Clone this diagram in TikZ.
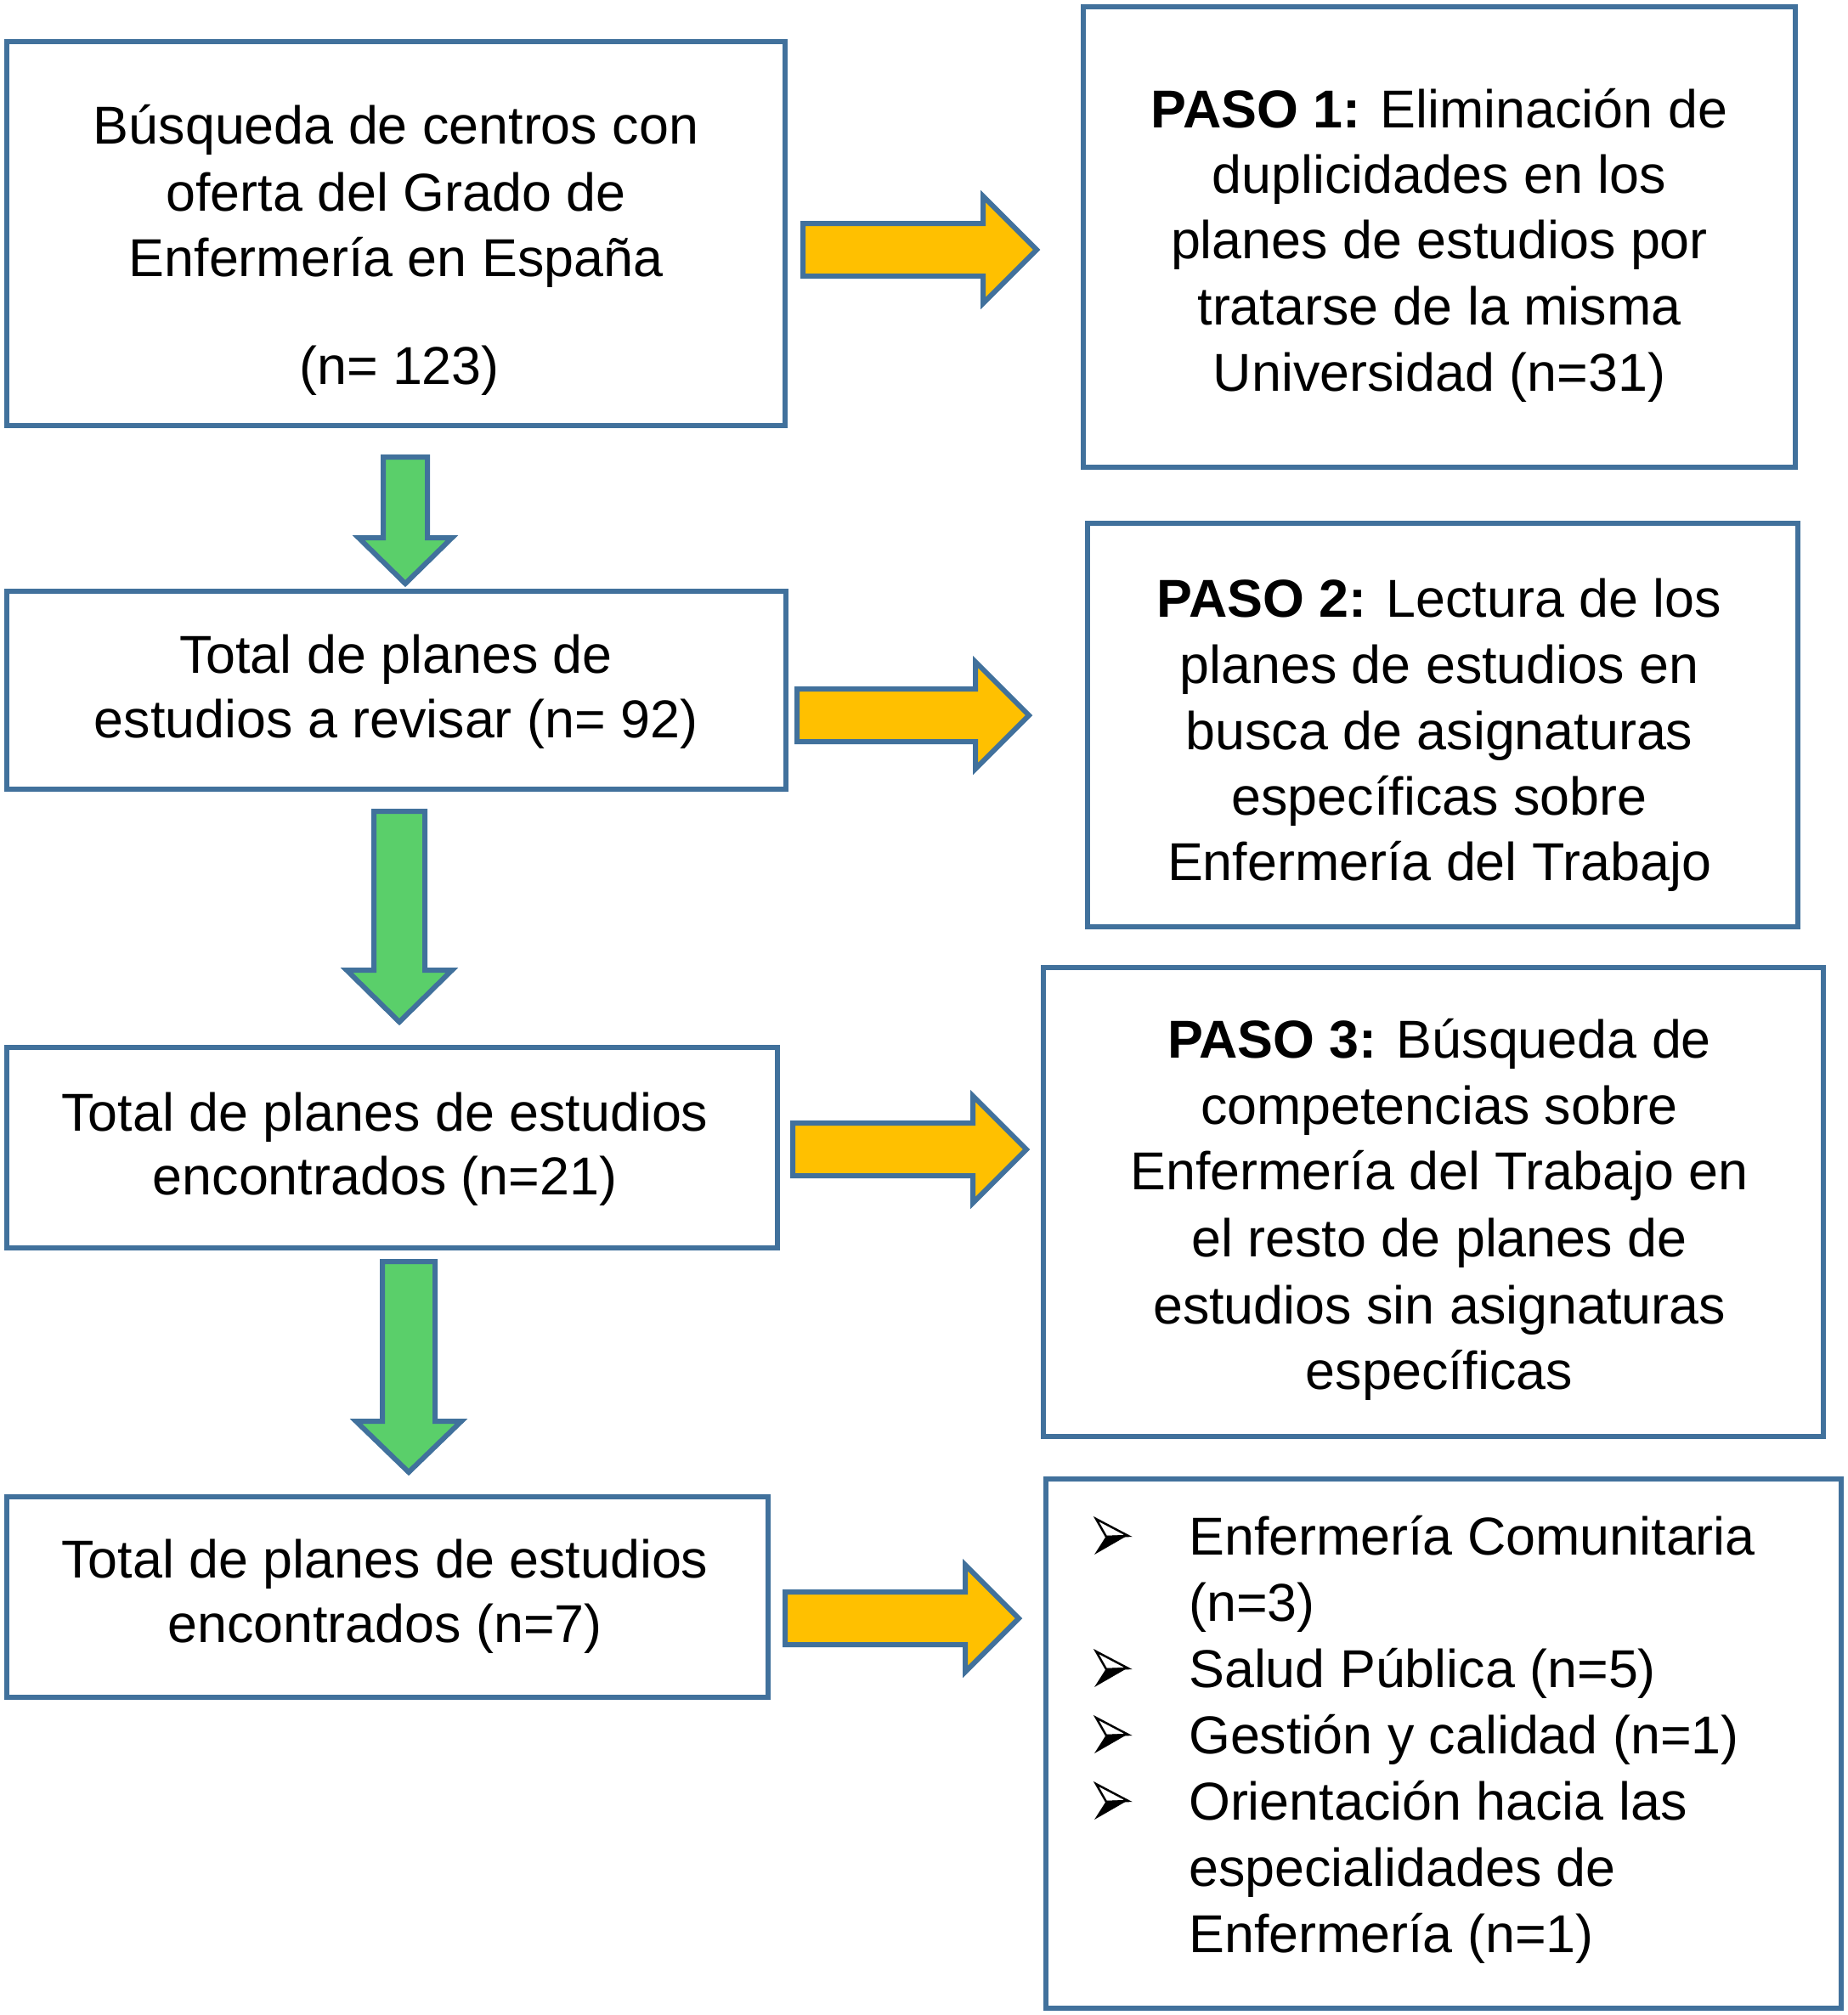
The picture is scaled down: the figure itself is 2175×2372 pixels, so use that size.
\documentclass[tikz,border=0pt]{standalone}
\usepackage{fontspec}
\setmainfont{Liberation Sans}
\definecolor{bblue}{RGB}{65,113,156}
\definecolor{ayellow}{RGB}{255,192,0}
\definecolor{agreen}{RGB}{90,207,106}
\tikzset{
  box/.style={draw=bblue, line width=6pt, rectangle, inner sep=0pt, line join=miter},
  ln/.style={anchor=base, inner sep=0pt, font=\fontsize{62.8}{78}\selectfont},
  lnl/.style={ln, anchor=base west},
  yarrow/.style={draw=bblue, fill=ayellow, line width=6pt, line join=miter},
  garrow/.style={draw=bblue, fill=agreen, line width=6pt, line join=miter},
  arrowbullet/.pic={
    \filldraw[fill=white, draw=black, line width=2.5pt, line join=miter]
      (-19,-20) -- (19,0) -- (-7,1) -- cycle;
    \fill[black] (-7,0) -- (19,-1) -- (-21,22) -- cycle;
  }
}
% horizontal block arrow: x0, xbase, xtip, ycenter
\newcommand\yarr[4]{%
  \filldraw[yarrow] (#1,{#4-31}) -- (#2,{#4-31}) -- (#2,{#4-63}) -- (#3,#4)
    -- (#2,{#4+63}) -- (#2,{#4+31}) -- (#1,{#4+31}) -- cycle;}
% vertical block arrow: xcenter, shaft half, head half, ytop, ybase, ytip
\newcommand\garr[6]{%
  \filldraw[garrow] ({#1-#2},#4) -- ({#1+#2},#4) -- ({#1+#2},#5) -- ({#1+#3},#5)
    -- (#1,#6) -- ({#1-#3},#5) -- ({#1-#2},#5) -- cycle;}
\begin{document}
\begin{tikzpicture}[x=1pt,y=-1pt]
\useasboundingbox (0,0) rectangle (2175,2372);

% boxes
\node[box, minimum width=916, minimum height=452] (b1) at (466,275) {};
\node[box, minimum width=838, minimum height=542] (ba) at (1694,279) {};
\node[box, minimum width=917, minimum height=233] (b2) at (466.5,812.5) {};
\node[box, minimum width=836, minimum height=475] (bb) at (1698,853.5) {};
\node[box, minimum width=907, minimum height=236] (b3) at (461.5,1351) {};
\node[box, minimum width=918, minimum height=552] (bc) at (1687,1415) {};
\node[box, minimum width=896, minimum height=236] (b4) at (456,1880) {};
\node[box, minimum width=936, minimum height=623] (bd) at (1699,2052.5) {};

% text box 1
\node[ln] (t1a) at (466,169) {Búsqueda de centros con};
\node[ln] (t1b) at (466,248) {oferta del Grado de};
\node[ln] (t1c) at (466,325) {Enfermería en España};
\node[ln] (t1d) at (470,452) {(n= 123)};

% text box A
\node[ln] (tAa) at (1694,150) {\textbf{PASO 1:} Eliminación de};
\node[ln] (tAb) at (1694,227) {duplicidades en los};
\node[ln] (tAc) at (1694,304) {planes de estudios por};
\node[ln] (tAd) at (1694,382) {tratarse de la misma};
\node[ln] (tAe) at (1694,460) {Universidad (n=31)};

% text box 2
\node[ln] (t2a) at (466,792) {Total de planes de};
\node[ln] (t2b) at (466,868) {estudios a revisar (n= 92)};

% text box B
\node[ln] (tBa) at (1694,726) {\textbf{PASO 2:} Lectura de los};
\node[ln] (tBb) at (1694,804) {planes de estudios en};
\node[ln] (tBc) at (1694,882) {busca de asignaturas};
\node[ln] (tBd) at (1694,959) {específicas sobre};
\node[ln] (tBe) at (1694,1036) {Enfermería del Trabajo};

% text box 3
\node[ln] (t3a) at (453,1331) {Total de planes de estudios};
\node[ln] (t3b) at (453,1406) {encontrados (n=21)};

% text box C
\node[ln] (tCa) at (1694,1245) {\textbf{PASO 3:} Búsqueda de};
\node[ln] (tCb) at (1694,1323) {competencias sobre};
\node[ln] (tCc) at (1694,1400) {Enfermería del Trabajo en};
\node[ln] (tCd) at (1694,1479) {el resto de planes de};
\node[ln] (tCe) at (1694,1558) {estudios sin asignaturas};
\node[ln] (tCf) at (1694,1635) {específicas};

% text box 4
\node[ln] (t4a) at (453,1857) {Total de planes de estudios};
\node[ln] (t4b) at (453,1933) {encontrados (n=7)};

% text box D
\pic at (1309,1808) {arrowbullet};
\pic at (1309,1964) {arrowbullet};
\pic at (1309,2042) {arrowbullet};
\pic at (1309,2120) {arrowbullet};
\node[lnl] (tDa) at (1399,1830) {Enfermería Comunitaria};
\node[lnl] (tDb) at (1399,1908) {(n=3)};
\node[lnl] (tDc) at (1399,1986) {Salud Pública (n=5)};
\node[lnl] (tDd) at (1399,2064) {Gestión y calidad (n=1)};
\node[lnl] (tDe) at (1399,2142) {Orientación hacia las};
\node[lnl] (tDf) at (1399,2220) {especialidades de};
\node[lnl] (tDg) at (1399,2298) {Enfermería (n=1)};

% yellow block arrows
\yarr{945}{1157}{1220}{294}
\yarr{938}{1148}{1211}{842}
\yarr{933}{1145}{1208}{1353}
\yarr{924}{1136}{1199}{1905}

% green block arrows
\garr{477}{26}{55}{538}{633}{687}
\garr{470}{30}{62}{955}{1142}{1203}
\garr{481}{31}{62}{1485}{1673}{1733}
\end{tikzpicture}
\end{document}
